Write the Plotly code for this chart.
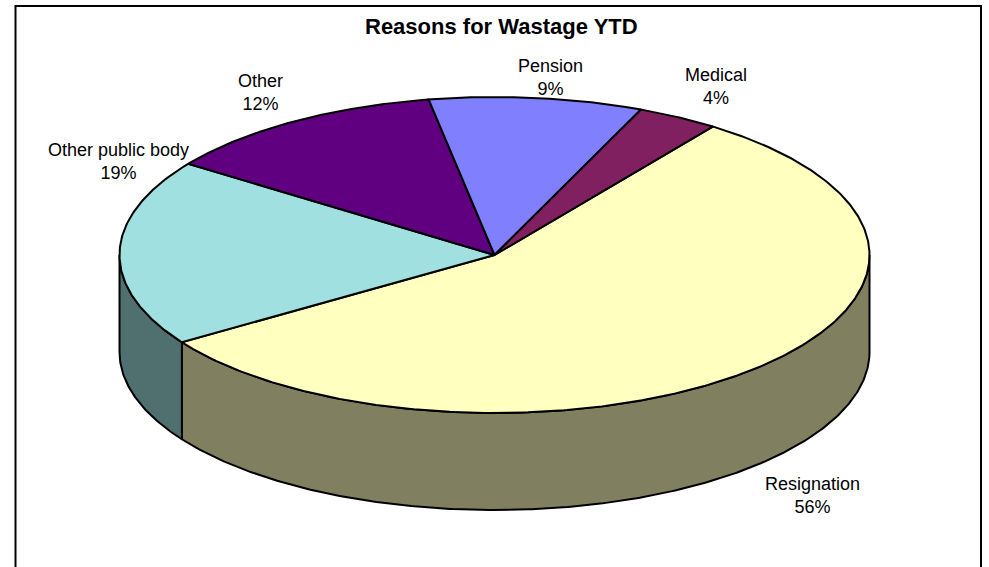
import numpy as np
import plotly.graph_objects as go

# Data (slice sizes estimated from the rim positions)
categories = ["Resignation", "Other public body", "Other", "Pension", "Medical"]
values = [55.8, 19.1, 12.4, 9.2, 3.5]
title_text = "Reasons for Wastage YTD"

# Styles
top_colors = ["#FFFFC0", "#A0E0E0", "#600080", "#8080FF", "#802060"]
side_colors = ["#808060", "#507070", "#300040", "#404080", "#401030"]
label_xy = {
    "Resignation": (812, 495),
    "Other public body": (118, 161),
    "Other": (260, 92),
    "Pension": (550, 77),
    "Medical": (716, 86),
}

# Projection of the pie in page pixels
CX, CY, RX, RY, DEPTH = 494.5, 255, 375, 158, 97
START_DEG = 35.6
EDGE = dict(color="#000000", width=2)


def rim(a_from, a_to, drop=0.0):
    n = max(2, int(abs(a_to - a_from) * 2) + 1)
    t = np.radians(np.linspace(a_from, a_to, n))
    return CX + RX * np.sin(t), CY - RY * np.cos(t) + drop


fig = go.Figure()

total = sum(values)
edges = np.concatenate([[0], np.cumsum(values)]) / total * 360 + START_DEG

# Side walls: only the front half of the pie (90 to 270 degrees) shows
for i in range(len(values)):
    a0, a1 = max(edges[i], 90), min(edges[i + 1], 270)
    if a1 <= a0:
        continue
    xt, yt = rim(a0, a1)
    xb, yb = rim(a1, a0, DEPTH)
    fig.add_trace(go.Scatter(
        x=np.concatenate([xt, xb, xt[:1]]), y=np.concatenate([yt, yb, yt[:1]]),
        mode="lines", fill="toself", fillcolor=side_colors[i], line=EDGE,
        hoverinfo="skip", showlegend=False,
    ))

# Top faces
for i, name in enumerate(categories):
    xr, yr = rim(edges[i], edges[i + 1])
    fig.add_trace(go.Scatter(
        x=np.concatenate([[CX], xr, [CX]]), y=np.concatenate([[CY], yr, [CY]]),
        mode="lines", fill="toself", fillcolor=top_colors[i], line=EDGE,
        name=name, text=f"{name}: {values[i]:.0f}%", hoverinfo="text", showlegend=False,
    ))

for name, val in zip(categories, values):
    x, y = label_xy[name]
    fig.add_annotation(
        x=x, y=y, text=f"{name}<br>{val:.0f}%", showarrow=False,
        xanchor="center", yanchor="middle", align="center",
        font=dict(family="Liberation Sans", size=18, color="#000000"),
    )

fig.add_annotation(
    x=501, y=26, text=f"<b>{title_text}</b>", showarrow=False,
    xanchor="center", yanchor="middle",
    font=dict(family="Liberation Sans", size=22, color="#000000"),
)

fig.add_shape(type="rect", x0=15.5, x1=981, y0=6, y1=640,
              line=dict(color="#000000", width=2), fillcolor="rgba(0,0,0,0)", layer="below")

fig.update_layout(
    width=989, height=567, margin=dict(l=0, r=0, t=0, b=0),
    paper_bgcolor="#FFFFFF", plot_bgcolor="#FFFFFF", showlegend=False,
    xaxis=dict(range=[0, 989], visible=False, fixedrange=True),
    yaxis=dict(range=[567, 0], visible=False, fixedrange=True),
)
fig.write_html("out.html", config=dict(displayModeBar=False),
               post_script="document.body.style.margin='0';document.documentElement.style.overflow='hidden';")
